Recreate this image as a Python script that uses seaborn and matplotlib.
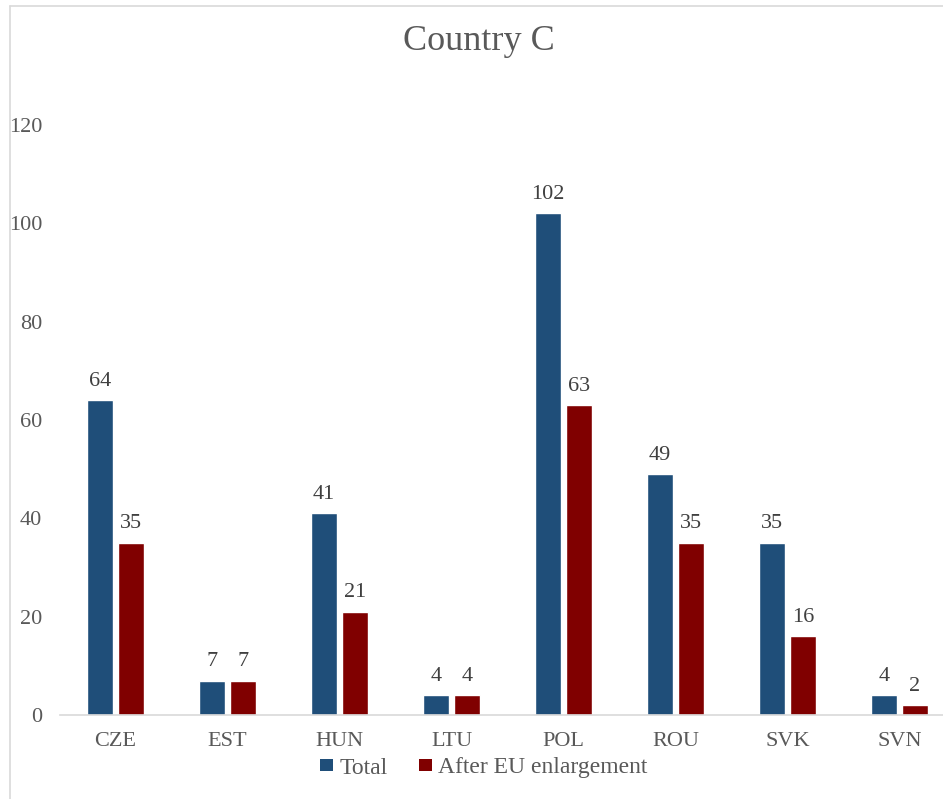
import matplotlib
matplotlib.use("Agg")
import matplotlib.pyplot as plt
from matplotlib.patches import Patch
from matplotlib.lines import Line2D
import seaborn as sns
import pandas as pd

# Data
countries = ["CZE", "EST", "HUN", "LTU", "POL", "ROU", "SVK", "SVN"]
total = [64, 7, 41, 4, 102, 49, 35, 4]
after_enlargement = [35, 7, 21, 4, 63, 35, 16, 2]
series_names = ["Total", "After EU enlargement"]
y_ticks = [0, 20, 40, 60, 80, 100, 120]
title = "Country C"

colors = {"Total": "#1F4E79", "After EU enlargement": "#800000"}
text_gray = "#595959"
label_gray = "#404040"
line_gray = "#D9D9D9"

df = pd.DataFrame({
    "country": countries * 2,
    "value": total + after_enlargement,
    "series": [series_names[0]] * len(countries) + [series_names[1]] * len(countries),
})

sns.set_theme(style="white")
plt.rcParams["font.family"] = ["Liberation Serif", "DejaVu Serif"]

W, H = 943, 799
fig = plt.figure(figsize=(W / 100, H / 100), dpi=100)
ax = fig.add_axes([59.5 / W, (H - 715) / H, 896 / W, 590 / H])

sns.barplot(data=df, x="country", y="value", hue="series", order=countries,
            hue_order=series_names, palette=colors, width=0.55, gap=0.13,
            saturation=1, legend=False, ax=ax, errorbar=None)

ax.set_ylim(0, 120)
ax.set_xlim(-0.5, len(countries) - 0.5)
ax.set_yticks(y_ticks)
ax.set_yticklabels([str(t) for t in y_ticks])
ax.set_xlabel("")
ax.set_ylabel("")

for side in ["top", "right", "left"]:
    ax.spines[side].set_visible(False)
ax.spines["bottom"].set_color(line_gray)
ax.spines["bottom"].set_linewidth(1.2)

ax.tick_params(axis="y", length=0, pad=12.5, labelsize=16, labelcolor=text_gray)
ax.tick_params(axis="x", length=0, pad=12, labelsize=16, labelcolor=text_gray)

# Value labels above each bar
for container in ax.containers:
    for bar in container:
        h = bar.get_height()
        ax.annotate(f"{h:.0f}", (bar.get_x() + bar.get_width() / 2, h),
                    xytext=(0, 10.5), textcoords="offset points",
                    ha="center", va="baseline", fontsize=16, color=label_gray)

fig.text(479 / W, 1 - 41 / H, title, ha="center", va="center",
         fontsize=26, color=text_gray)

handles = [Patch(facecolor=colors[s], edgecolor="none", label=s) for s in series_names]
fig.legend(handles=handles, loc="center", bbox_to_anchor=(484 / W, 1 - 768 / H),
           ncol=2, frameon=False, fontsize=17, handlelength=0.55,
           handleheight=0.42, handletextpad=0.25, columnspacing=1.35,
           labelcolor=text_gray)

# Chart-area border
fig.add_artist(Line2D([9.5 / W, 9.5 / W], [0, 1 - 5.5 / H], color=line_gray,
                      linewidth=1.2, transform=fig.transFigure))
fig.add_artist(Line2D([9.5 / W, 1], [1 - 5.5 / H, 1 - 5.5 / H], color=line_gray,
                      linewidth=1.2, transform=fig.transFigure))

fig.savefig("out.png", dpi=100)
